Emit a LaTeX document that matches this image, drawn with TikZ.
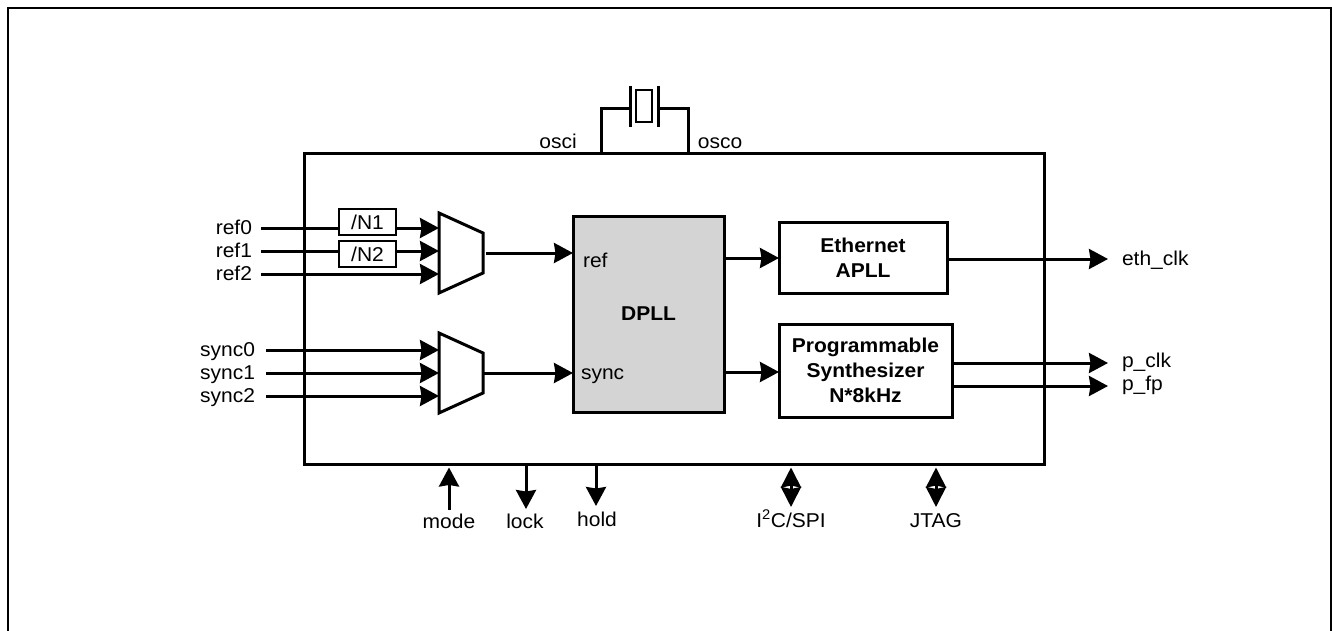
\documentclass[tikz,border=0pt]{standalone}
\usepackage{fontspec}
\setmainfont[FakeStretch=1.05]{Liberation Sans}
\usetikzlibrary{arrows.meta}

\tikzset{
    box/.style={draw, line width=3pt, inner sep=0pt, outer sep=0pt, align=center, font=\fontsize{20}{25}\selectfont\bfseries},
    lbl/.style={inner sep=0pt, outer sep=0pt, text height=17pt, text depth=4pt, font=\fontsize{20}{22}\selectfont},
    divbox/.style={box, line width=2.5pt, font=\fontsize{20}{22}\selectfont, minimum width=57pt, minimum height=26pt},
    wire/.style={line width=3pt},
    sig/.style={line width=3pt, -{Stealth[length=19pt,width=20pt,inset=1.5pt]}},
    sigboth/.style={line width=3pt, {Stealth[length=20pt,width=20pt,inset=2pt]}-{Stealth[length=20pt,width=20pt,inset=2pt]}}
}

\begin{document}
\begin{tikzpicture}[x=1pt,y=-1pt]
    \useasboundingbox (0,0) rectangle (1332,631);

    % outer frame
    \coordinate (framel) at (8,631);
    \coordinate (framer) at (1331,631);
    \draw[line width=2.5pt] (framel) -- (8,8) -- (1331,8) -- (framer);

    \node[box, minimum width=740pt, minimum height=310pt] (core) at (674,309) {};

    % crystal
    \node[box, line width=2.5pt, minimum width=16pt, minimum height=32pt] (xtal) at (644,106) {};
    \coordinate (platel) at (630,109);
    \coordinate (plater) at (658,109);
    \draw[wire] (630,86) -- (630,127);
    \draw[wire] (658,86) -- (658,127);
    \coordinate (osci0) at (601,109);
    \coordinate (osco0) at (688,109);
    \draw[wire] (osci0 |- core.north) -- (osci0) -- (platel);
    \draw[wire] (osco0 |- core.north) -- (osco0) -- (plater);
    \node[lbl] (osci) at (558,142) {osci};
    \node[lbl] (osco) at (720,142) {osco};

    % ref mux
    \draw[wire, line join=miter] (439,213) -- (483,233) -- (483,273) -- (439,293) -- cycle;
    \coordinate (muxa0) at (439,228);
    \coordinate (muxa1) at (439,251);
    \coordinate (muxa2) at (439,274);
    \coordinate (muxaout) at (486,253);

    \node[lbl, anchor=east, inner xsep=9pt] (ref0) at (261,228) {ref0};
    \node[lbl, anchor=east, inner xsep=9pt] (ref1) at (261,251) {ref1};
    \node[lbl, anchor=east, inner xsep=9pt] (ref2) at (261,274) {ref2};

    \node[divbox] (n1) at (367.5,222) {/N1};
    \node[divbox] (n2) at (367.5,254) {/N2};

    \draw[wire] (ref0.east) -- (ref0.east -| n1.west);
    \draw[sig] (ref0.east -| n1.east) -- (muxa0);
    \draw[wire] (ref1.east) -- (ref1.east -| n2.west);
    \draw[sig] (ref1.east -| n2.east) -- (muxa1);
    \draw[sig] (ref2.east) -- (muxa2);

    % sync mux
    \draw[wire, line join=miter] (439,333) -- (483,353) -- (483,393) -- (439,413) -- cycle;
    \coordinate (muxb0) at (439,350);
    \coordinate (muxb1) at (439,373);
    \coordinate (muxb2) at (439,396);
    \coordinate (muxbout) at (483,373);

    \node[lbl, anchor=east, inner xsep=11pt] (sync0) at (266,350) {sync0};
    \node[lbl, anchor=east, inner xsep=11pt] (sync1) at (266,373) {sync1};
    \node[lbl, anchor=east, inner xsep=11pt] (sync2) at (266,396) {sync2};

    \draw[sig] (sync0.east) -- (muxb0);
    \draw[sig] (sync1.east) -- (muxb1);
    \draw[sig] (sync2.east) -- (muxb2);

    % DPLL
    \node[box, fill=black!17, minimum width=151pt, minimum height=196pt] (dpll) at (648.5,314) {DPLL};
    \node[lbl, anchor=west] (refpin) at (583,261) {ref};
    \node[lbl, anchor=west] (syncpin) at (581,373) {sync};

    \draw[sig] (muxaout) -- (muxaout -| dpll.west);
    \draw[sig] (muxbout) -- (muxbout -| dpll.west);

    % outputs
    \node[box, minimum width=168pt, minimum height=71pt] (eth) at (863,257.5) {Ethernet\\APLL};
    \node[box, minimum width=173pt, minimum height=93pt] (prog) at (865.5,370.5) {Programmable\\Synthesizer\\N*8kHz};

    \coordinate (dpllout0) at (724,258);
    \coordinate (dpllout1) at (724,372);
    \draw[sig] (dpllout0) -- (dpllout0 -| eth.west);
    \draw[sig] (dpllout1) -- (dpllout1 -| prog.west);

    \node[lbl, anchor=west, inner xsep=14pt] (ethclk) at (1108,259) {eth\_clk};
    \node[lbl, anchor=west, inner xsep=14pt] (pclk) at (1108,361) {p\_clk};
    \node[lbl, anchor=west, inner xsep=14pt] (pfp) at (1108,384) {p\_fp};

    \coordinate (pclk0) at (1108,363);
    \coordinate (pfp0) at (1108,386);
    \draw[sig] (ethclk.west -| eth.east) -- (ethclk.west);
    \draw[sig] (pclk0 -| prog.east) -- (pclk0);
    \draw[sig] (pfp0 -| prog.east) -- (pfp0);

    % bottom pins
    \node[lbl] (mode) at (449,522) {mode};
    \node[lbl] (lock) at (525,522) {lock};
    \node[lbl] (hold) at (597,520) {hold};
    \node[lbl] (i2c) at (791,521) {I\textsuperscript{2}C/SPI};
    \node[lbl] (jtag) at (936,521) {JTAG};

    \coordinate (mode0) at (449,510);
    \coordinate (lock0) at (526,509);
    \coordinate (hold0) at (596,506);
    \coordinate (i2c0) at (791,507);
    \coordinate (jtag0) at (936,507);

    \draw[sig, shorten >=3.5pt] (mode0) -- (mode0 |- core.south);
    \draw[sig] (lock0 |- core.south) -- (lock0);
    \draw[sig] (hold0 |- core.south) -- (hold0);
    \draw[sigboth, shorten >=3.5pt] (i2c0) -- (i2c0 |- core.south);
    \draw[sigboth, shorten >=3.5pt] (jtag0) -- (jtag0 |- core.south);
\end{tikzpicture}
\end{document}
